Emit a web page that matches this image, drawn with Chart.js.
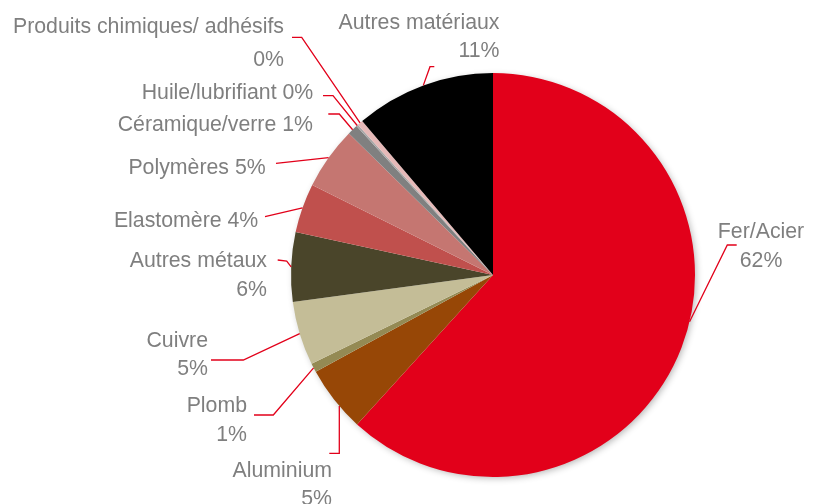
<!DOCTYPE html>
<html>
<head>
<meta charset="utf-8">
<script src="https://cdn.jsdelivr.net/npm/chart.js@4.4.1/dist/chart.umd.min.js"></script>
<style>
  html, body { margin: 0; padding: 0; background: #ffffff; }
  #wrap { width: 821px; height: 504px; }
</style>
</head>
<body>
<div id="wrap"><canvas id="c" width="821" height="504"></canvas></div>
<script>
// ---- data ----
const categories = ['Fer/Acier', 'Aluminium', 'Plomb', 'Cuivre', 'Autres métaux', 'Elastomère',
  'Polymères', 'Céramique/verre', 'Huile/lubrifiant', 'Produits chimiques/ adhésifs', 'Autres matériaux'];
const shares = [61.75, 5.29, 0.72, 5.10, 5.55, 3.95, 5.00, 0.83, 0.15, 0.45, 11.21];
const percentOnNewLine = [true, true, true, true, true, false, false, false, false, true, true];

// ---- styles ----
const sliceColors = ['#E2001A', '#974706', '#948A54', '#C4BD97', '#4A452A', '#C0504D',
  '#C57671', '#808080', '#A6A6A6', '#E6B9B8', '#000000'];
const textColor = '#7F7F7F';
const leaderColor = '#E2001A';
const fontSpec = '21.3px "Liberation Sans", Arial, sans-serif';

// label layout: anchor x, first baseline y, alignment, line gap; leader start + elbow; leader end position along arc
const labelLayout = [
  { x: 761, y: 237.5, align: 'center', gap: 29.3, from: [736.7, 245], elbow: [727.3, 245], frac: 0.465 },
  { x: 332, y: 476.7, align: 'right', gap: 28.5, from: [329.3, 453.3], elbow: [339.3, 453.3], frac: 0.38 },
  { x: 247, y: 411.7, align: 'right', gap: 29, from: [254, 415], elbow: [273.3, 415], frac: 0.5 },
  { x: 208, y: 346.7, align: 'right', gap: 28.3, from: [211, 360], elbow: [243.3, 360], frac: 0.5 },
  { x: 267, y: 267.3, align: 'right', gap: 28.7, from: [277.7, 260], elbow: [286.7, 261], frac: 0.5 },
  { x: 258.3, y: 226.7, align: 'right', gap: 0, from: [265, 216.7], elbow: [265, 216.7], frac: 0.5 },
  { x: 265.7, y: 174.3, align: 'right', gap: 0, from: [276, 163.3], elbow: [276, 163.3], frac: 0.5 },
  { x: 313, y: 130.7, align: 'right', gap: 0, from: [328.3, 114], elbow: [339.3, 114], frac: 0.5 },
  { x: 313.3, y: 99, align: 'right', gap: 0, from: [323, 95.7], elbow: [333, 95.7], frac: 0.5 },
  { x: 284, y: 33.3, align: 'right', gap: 32.7, from: [292, 37.3], elbow: [301.7, 37.3], frac: 0.5 },
  { x: 499.5, y: 29.3, align: 'right', gap: 28, from: [434.3, 66.7], elbow: [430, 66.7], frac: 0.5 }
];

const shadowPlugin = {
  id: 'pieShadow',
  beforeDatasetsDraw(chart) {
    const arc = chart.getDatasetMeta(0).data[0];
    if (!arc) return;
    const ctx = chart.ctx;
    ctx.save();
    ctx.shadowColor = 'rgba(0,0,0,0.30)';
    ctx.shadowBlur = 7;
    ctx.shadowOffsetX = 2;
    ctx.shadowOffsetY = 2;
    ctx.fillStyle = '#ffffff';
    ctx.beginPath();
    ctx.arc(arc.x, arc.y, arc.outerRadius - 1, 0, Math.PI * 2);
    ctx.fill();
    ctx.restore();
  }
};

const labelPlugin = {
  id: 'outerLabels',
  afterDatasetsDraw(chart) {
    const ctx = chart.ctx;
    const meta = chart.getDatasetMeta(0);
    ctx.save();
    meta.data.forEach((arc, i) => {
      const L = labelLayout[i];
      const ang = arc.startAngle + (arc.endAngle - arc.startAngle) * L.frac;
      const ex = arc.x + Math.cos(ang) * arc.outerRadius;
      const ey = arc.y + Math.sin(ang) * arc.outerRadius;
      // leader line
      ctx.strokeStyle = leaderColor;
      ctx.lineWidth = 1.3;
      ctx.lineJoin = 'miter';
      ctx.beginPath();
      ctx.moveTo(L.from[0], L.from[1]);
      ctx.lineTo(L.elbow[0], L.elbow[1]);
      ctx.lineTo(ex, ey);
      ctx.stroke();
      // text
      const pct = Math.round(shares[i]) + '%';
      const lines = percentOnNewLine[i] ? [categories[i], pct] : [categories[i] + ' ' + pct];
      ctx.font = fontSpec;
      ctx.fillStyle = textColor;
      ctx.textAlign = L.align;
      ctx.textBaseline = 'alphabetic';
      lines.forEach((t, k) => ctx.fillText(t, L.x, L.y + k * L.gap));
    });
    ctx.restore();
  }
};

new Chart(document.getElementById('c'), {
  type: 'pie',
  data: {
    labels: categories,
    datasets: [{
      data: shares,
      backgroundColor: sliceColors,
      borderWidth: 0,
      hoverOffset: 0,
      offset: 0
    }]
  },
  options: {
    responsive: false,
    devicePixelRatio: 1,
    animation: false,
    events: [],
    layout: { padding: { left: 291, right: 126, top: 73, bottom: 27 } },
    plugins: {
      legend: { display: false },
      tooltip: { enabled: false },
      title: { display: false }
    }
  },
  plugins: [shadowPlugin, labelPlugin]
});
</script>
</body>
</html>
